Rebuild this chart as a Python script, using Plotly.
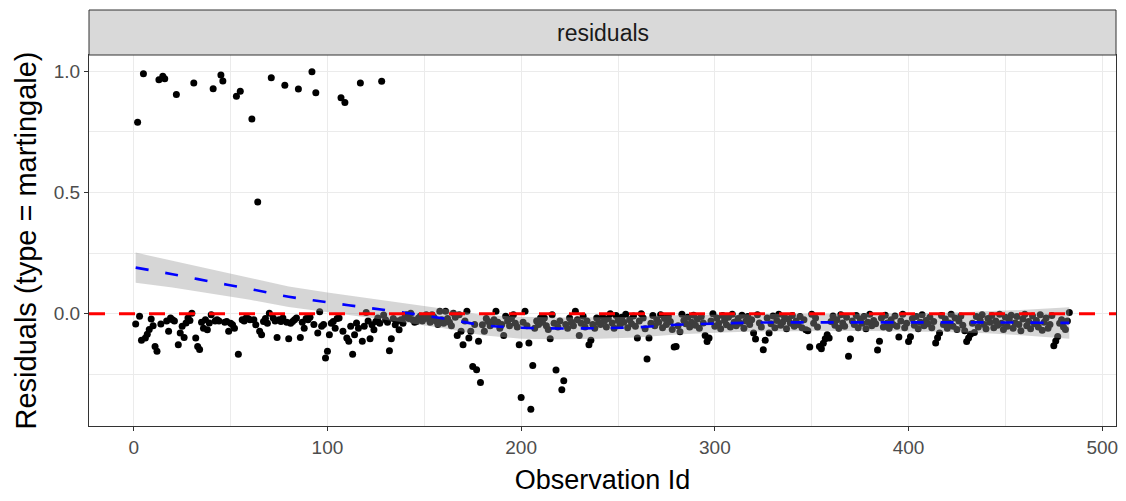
import plotly.graph_objects as go

# ---------------- data ----------------
# martingale residuals, observation id 1..483
residuals = [
    -0.043, 0.790, -0.011, -0.110, 0.990, -0.100, -0.085, -0.065, -0.022, -0.050,
    -0.135, -0.155, 0.965, -0.043, 0.980, 0.970, -0.030, -0.073, -0.018, -0.025,
    -0.030, 0.905, -0.128, -0.080, -0.052, -0.098, -0.039, -0.018, -0.028, 0.002,
    0.952, -0.100, -0.135, -0.148, -0.035, -0.060, -0.025, -0.066, -0.039, -0.004,
    0.928, -0.030, -0.025, -0.030, 0.985, 0.960, -0.035, -0.032, -0.073, -0.040,
    -0.046, -0.060, 0.897, -0.167, 0.918, -0.025, -0.030, -0.018, -0.020, -0.025,
    0.803, -0.025, -0.046, 0.461, -0.073, -0.087, -0.032, -0.020, -0.040, 0.002,
    0.974, -0.018, -0.030, -0.098, -0.025, -0.032, -0.018, 0.943, -0.035, -0.103,
    -0.040, -0.032, -0.025, -0.018, 0.927, -0.098, -0.035, -0.060, -0.020, -0.025,
    -0.015, 0.998, -0.045, 0.912, -0.080, 0.008, -0.052, -0.045, -0.183, -0.155,
    -0.087, -0.040, -0.032, -0.060, -0.020, -0.018, 0.891, -0.073, 0.872, -0.100,
    -0.114, -0.052, -0.167, -0.087, -0.039, -0.060, 0.952, -0.114, -0.052, 0.005,
    -0.030, -0.103, -0.046, -0.066, -0.032, -0.018, -0.040, 0.959, -0.005, -0.025,
    -0.035, -0.153, -0.103, -0.020, -0.046, -0.030, -0.066, -0.025, -0.040, -0.015,
    -0.004, -0.020, 0.002, -0.025, -0.035, -0.032, -0.018, -0.010, -0.030, -0.020,
    -0.004, -0.020, -0.035, -0.004, -0.015, -0.030, -0.045, 0.010, -0.025, -0.040,
    0.010, -0.020, -0.035, -0.050, 0.002, -0.015, -0.090, -0.004, -0.073, -0.128,
    -0.030, 0.010, -0.100, -0.073, -0.218, -0.045, -0.231, -0.114, -0.284, -0.046,
    -0.073, -0.020, -0.032, -0.050, -0.040, -0.025, 0.010, -0.035, -0.060, -0.045,
    -0.090, -0.011, -0.030, -0.050, -0.020, -0.004, -0.040, -0.055, -0.128, -0.346,
    -0.035, 0.010, -0.050, -0.121, -0.394, -0.214, -0.060, -0.030, -0.045, -0.018,
    -0.035, -0.018, -0.050, -0.065, -0.103, -0.004, -0.040, -0.232, -0.055, -0.030,
    -0.314, -0.277, -0.045, -0.060, -0.018, -0.035, -0.050, 0.010, -0.025, -0.090,
    -0.040, -0.011, -0.055, -0.030, -0.128, -0.110, -0.045, -0.060, -0.018, -0.035,
    -0.045, -0.012, -0.030, -0.055, -0.020, 0.000, -0.038, -0.060, -0.008, -0.028,
    -0.048, -0.015, -0.035, -0.002, -0.058, -0.025, -0.042, -0.010, -0.052, -0.100,
    -0.030, 0.000, -0.018, -0.062, -0.187, -0.100, -0.040, -0.008, -0.050, -0.025,
    -0.035, -0.004, -0.058, -0.020, -0.045, -0.012, -0.032, -0.065, -0.138, -0.135,
    -0.050, -0.075, -0.002, -0.028, -0.042, -0.015, -0.055, -0.035, -0.006, -0.048,
    -0.022, -0.060, -0.012, -0.038, -0.090, -0.115, -0.100, -0.030, 0.000, -0.052,
    -0.018, -0.040, -0.062, -0.008, -0.028, -0.046, -0.015, -0.055, -0.002, -0.035,
    -0.050, -0.020, -0.040, -0.006, -0.060, -0.030, -0.012, -0.045, -0.025, -0.080,
    -0.105, -0.004, -0.038, -0.055, -0.149, -0.110, -0.018, -0.080, -0.042, -0.010,
    -0.058, -0.028, -0.002, -0.048, -0.035, -0.015, -0.062, -0.022, -0.040, -0.008,
    -0.052, -0.030, -0.045, -0.012, -0.058, -0.025, -0.066, -0.070, -0.138, -0.002,
    -0.040, -0.018, -0.055, -0.136, -0.145, -0.122, -0.103, -0.087, -0.100, -0.032,
    -0.010, -0.048, -0.025, -0.060, -0.004, -0.038, -0.052, -0.015, -0.176, -0.105,
    -0.030, -0.045, -0.008, -0.058, -0.022, -0.040, -0.012, -0.062, -0.035, -0.002,
    -0.050, -0.028, -0.042, -0.150, -0.114, -0.018, -0.055, -0.006, -0.038, -0.060,
    -0.025, -0.045, -0.010, -0.052, -0.096, -0.030, -0.002, -0.058, -0.040, -0.115,
    -0.095, -0.020, -0.048, -0.012, -0.062, -0.035, -0.004, -0.050, -0.028, -0.042,
    -0.015, -0.058, -0.032, -0.121, -0.099, -0.080, -0.008, -0.045, -0.022, -0.060,
    -0.038, -0.002, -0.052, -0.018, -0.065, -0.030, -0.010, -0.048, -0.070, -0.115,
    -0.100, -0.085, -0.040, -0.078, -0.012, -0.055, -0.028, -0.004, -0.045, -0.062,
    -0.020, -0.035, -0.008, -0.058, -0.030, -0.048, -0.002, -0.040, -0.065, -0.015,
    -0.052, -0.025, -0.006, -0.060, -0.038, -0.012, -0.045, -0.070, -0.022, -0.002,
    -0.050, -0.032, -0.062, -0.010, -0.042, -0.028, -0.055, -0.004, -0.068, -0.035,
    -0.018, -0.060, -0.045, -0.008, -0.132, -0.113, -0.094, -0.040, -0.025, -0.055,
    -0.065, -0.030, 0.005,
]
obs_id = list(range(1, len(residuals) + 1))

# loess smooth and its confidence band
smooth_x = [1, 20, 40, 60, 80, 100, 120, 140, 160, 180, 200, 220, 240,
            260, 280, 300, 320, 340, 360, 380, 400, 420, 440, 460, 483]
smooth_fit = [0.190, 0.163, 0.132, 0.102, 0.070, 0.047, 0.025, 0.004, -0.020,
              -0.047, -0.058, -0.061, -0.060, -0.056, -0.046, -0.041, -0.037,
              -0.036, -0.036, -0.036, -0.036, -0.036, -0.036, -0.037, -0.038]
smooth_upper = [0.252, 0.218, 0.182, 0.147, 0.112, 0.087, 0.065, 0.044, 0.020,
                -0.005, -0.013, -0.016, -0.016, -0.014, -0.006, -0.003, 0.000,
                0.000, 0.000, 0.000, 0.001, 0.004, 0.009, 0.016, 0.027]
smooth_lower = [0.128, 0.108, 0.082, 0.057, 0.028, 0.007, -0.015, -0.036, -0.060,
                -0.089, -0.103, -0.106, -0.104, -0.098, -0.086, -0.079, -0.074,
                -0.072, -0.072, -0.072, -0.073, -0.076, -0.081, -0.090, -0.103]

strip_label = "residuals"
x_title = "Observation Id"
y_title = "Residuals (type = martingale)"
x_ticks = [0, 100, 200, 300, 400, 500]
y_ticks = [0.0, 0.5, 1.0]
y_ticktext = ["0.0", "0.5", "1.0"]

FONT = "Liberation Sans, Arial, sans-serif"
TICK_SIZE = 19
X_TITLE_SIZE = 27
Y_TITLE_SIZE = 29
STRIP_SIZE = 23
PANEL_H = 371
STRIP_H = 45

fig = go.Figure()

fig.add_trace(go.Scatter(
    x=obs_id, y=residuals, mode="markers",
    marker=dict(color="black", size=7, line=dict(width=0)),
    showlegend=False, hoverinfo="x+y",
))

# confidence ribbon
fig.add_trace(go.Scatter(
    x=smooth_x + smooth_x[::-1],
    y=smooth_upper + smooth_lower[::-1],
    fill="toself", fillcolor="rgba(153,153,153,0.4)",
    line=dict(width=0), mode="lines", showlegend=False, hoverinfo="skip",
))

fig.add_trace(go.Scatter(
    x=smooth_x, y=smooth_fit, mode="lines",
    line=dict(color="#0000FF", width=2.6, dash="13px,17px", shape="spline"),
    showlegend=False,
))

# red dashed zero reference line
fig.add_shape(type="line", xref="paper", yref="y", x0=0, x1=1, y0=0, y1=0,
              line=dict(color="#FF0000", width=3, dash="16px,14px"), layer="above")

# facet strip
fig.add_shape(type="rect", xref="paper", yref="paper", x0=0, x1=1,
              y0=0, y1=STRIP_H, ysizemode="pixel", yanchor=1,
              line=dict(color="#333333", width=1), fillcolor="#D9D9D9", layer="above")
fig.add_annotation(text=strip_label, xref="paper", yref="paper", x=0.5,
                   y=1 + (STRIP_H / 2) / PANEL_H, showarrow=False,
                   font=dict(family=FONT, size=STRIP_SIZE, color="#1A1A1A"),
                   xanchor="center", yanchor="middle")

fig.update_layout(
    width=1126, height=501,
    margin=dict(l=89, r=10, t=55, b=75, autoexpand=False),
    paper_bgcolor="white", plot_bgcolor="white",
    font=dict(family=FONT, color="#4D4D4D"),
    showlegend=False,
)

fig.update_xaxes(
    range=[-23.1, 507.1], tickvals=x_ticks, ticktext=[str(v) for v in x_ticks],
    showgrid=True, gridcolor="#EBEBEB", gridwidth=1.1,
    minor=dict(dtick=50, tick0=0, showgrid=True, gridcolor="#EBEBEB", gridwidth=0.6),
    ticks="outside", ticklen=4, tickcolor="#333333", tickwidth=1,
    tickfont=dict(family=FONT, size=TICK_SIZE, color="#4D4D4D"),
    showline=True, linecolor="#333333", linewidth=1, mirror=True,
    zeroline=False, automargin=False,
    title=dict(text=x_title, font=dict(family=FONT, size=X_TITLE_SIZE, color="#000000"), standoff=13),
)
fig.update_yaxes(
    range=[-0.4636, 1.0676], tickvals=y_ticks, ticktext=y_ticktext,
    showgrid=True, gridcolor="#EBEBEB", gridwidth=1.1,
    minor=dict(dtick=0.25, tick0=0, showgrid=True, gridcolor="#EBEBEB", gridwidth=0.6),
    ticks="outside", ticklen=4, tickcolor="#333333", tickwidth=1,
    tickfont=dict(family=FONT, size=TICK_SIZE, color="#4D4D4D"),
    showline=True, linecolor="#333333", linewidth=1, mirror=True,
    zeroline=False, automargin=False,
    title=dict(text=y_title, font=dict(family=FONT, size=Y_TITLE_SIZE, color="#000000"), standoff=8),
)

fig.write_html("out.html", config={"displayModeBar": False},
               post_script="document.body.style.margin='0';")
